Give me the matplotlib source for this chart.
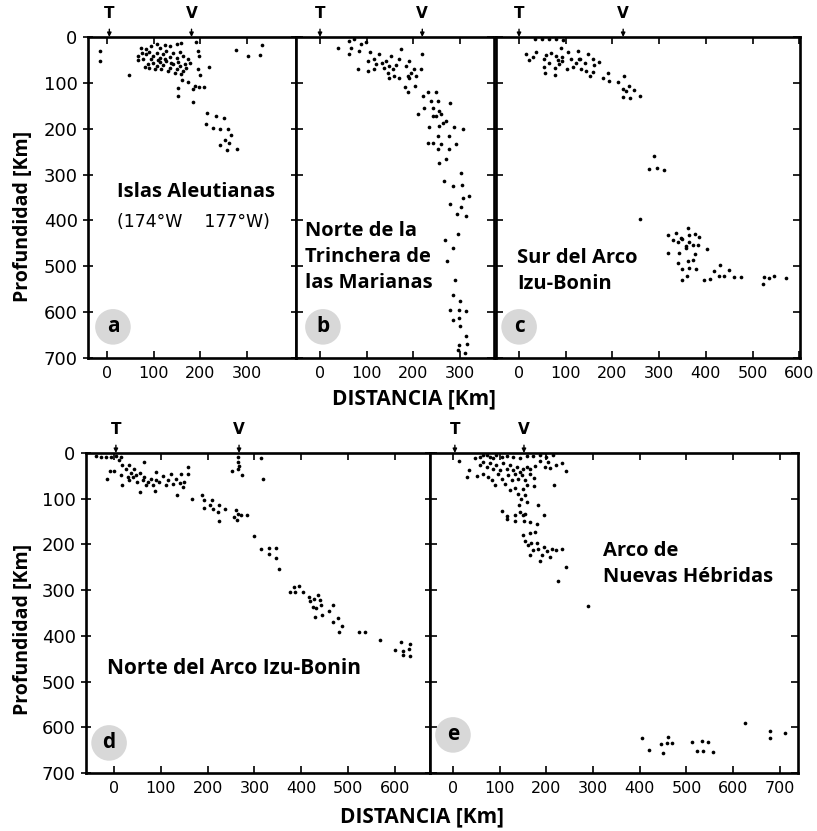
import matplotlib.pyplot as plt

plt.rcParams['font.family'] = ['DejaVu Sans']

# sismos (distancia km, profundidad km) por panel
a_dist = [-14, -14, 48, 276, 302, 327, 331, 195, 198, 191, 218, 195, 199, 161, 173, 151, 152, 184,
          188, 198, 208, 185, 215, 233, 251, 211, 228, 243, 259, 265, 252, 262, 243, 258, 278,
          73, 84, 95, 106, 113, 124, 134, 149, 159, 66, 66, 77, 84, 91, 98, 106, 113, 120, 127,
          134, 141, 149, 156, 163, 88, 98, 106, 113, 120, 127, 134, 141, 149, 156, 163, 170, 177,
          174, 166, 102, 116, 131, 145, 124, 109, 95, 81, 91, 74, 138, 152, 159]
a_prof = [30, 52, 83, 28, 41, 40, 18, 30, 41, 12, 65, 70, 83, 94, 99, 112, 128, 141,
          107, 110, 108, 114, 166, 172, 176, 190, 198, 200, 200, 213, 224, 232, 235, 246, 245,
          23, 27, 20, 16, 23, 18, 20, 16, 14, 41, 50, 49, 38, 33, 41, 34, 45, 38, 30,
          43, 34, 45, 33, 41, 60, 56, 63, 54, 62, 52, 67, 60, 70, 63, 74, 67, 56,
          49, 60, 70, 70, 74, 78, 49, 50, 49, 65, 67, 34, 56, 54, 81]

b_dist = [38, 63, 73, 88, 98, 66, 63, 84, 106, 81, 102, 102, 116, 120, 127, 116, 133, 138, 141,
          148, 156, 152, 163, 145, 159, 148, 170, 173, 184, 191, 188, 195, 202, 206, 216, 218,
          191, 170, 181, 188, 204, 220, 231, 248, 238, 252, 223, 209, 241, 255, 248, 259, 278,
          263, 241, 234, 255, 270, 286, 306, 252, 277, 231, 241, 259, 291, 252, 277, 270, 255,
          301, 266, 284, 304, 320, 306, 278, 302, 293, 313, 295, 268, 284, 271, 288, 284, 300,
          278, 297, 313, 298, 284, 300, 313, 298, 315, 296, 311]
b_prof = [25, 9, 5, 16, 12, 23, 38, 30, 33, 69, 52, 74, 49, 60, 38, 70, 56, 67, 52,
          63, 70, 41, 62, 78, 85, 89, 49, 27, 63, 52, 85, 78, 70, 85, 70, 38,
          89, 89, 110, 121, 107, 128, 121, 120, 139, 139, 154, 168, 154, 161, 172, 168, 143,
          187, 172, 197, 194, 183, 197, 201, 216, 216, 232, 232, 234, 234, 245, 245, 266, 274,
          297, 315, 326, 323, 346, 352, 364, 370, 385, 390, 429, 442, 460, 488, 529, 562, 576,
          595, 595, 597, 613, 618, 631, 651, 671, 669, 682, 689]

c_dist = [35, 50, 65, 80, 95, 15, 21, 36, 29, 54, 58, 69, 79, 90, 93, 104, 111, 126, 129, 147,
          158, 161, 172, 54, 56, 76, 65, 78, 86, 102, 115, 122, 133, 143, 151, 158, 93, 83,
          142, 131, 179, 190, 192, 211, 224, 222, 229, 236, 247, 222, 238, 259, 288, 278, 295,
          311, 259, 318, 336, 347, 361, 365, 376, 386, 329, 340, 350, 358, 372, 383, 365, 320,
          342, 358, 376, 403, 340, 361, 372, 350, 365, 378, 359, 348, 397, 408, 418, 430, 428,
          440, 450, 461, 475, 522, 525, 536, 547, 572]
c_prof = [5, 5, 5, 5, 6, 38, 50, 33, 43, 47, 40, 34, 41, 25, 43, 33, 49, 30, 47, 38,
          47, 62, 54, 65, 78, 83, 56, 67, 60, 70, 65, 57, 69, 74, 86, 76, 52, 50,
          56, 49, 89, 79, 96, 98, 86, 113, 118, 107, 115, 130, 132, 128, 259, 287, 285,
          290, 397, 431, 428, 439, 417, 431, 429, 436, 442, 446, 441, 455, 453, 453, 446, 471,
          470, 460, 473, 462, 493, 489, 486, 507, 504, 506, 522, 529, 529, 528, 511, 497, 522,
          522, 509, 524, 524, 538, 524, 526, 521, 526]

d_dist = [-38, -28, -17, -6, 4, 15, -14, -8, 1, 11, 18, 15, 17, 26, 33, 36, 33, 43, 47, 50,
          55, 55, 65, 65, 68, 79, 83, 90, 90, 88, 97, 105, 111, 115, 122, 125, 132, 134, 140,
          143, 147, 150, 157, 159, 40, 29, 61, 72, 167, 188, 193, 193, 204, 209, 212, 221, 225,
          224, 238, 252, 264, 264, 264, 273, 266, 314, 319, 257, 264, 261, 271, 284, 262, 298,
          313, 330, 332, 347, 346, 353, 375, 385, 396, 403, 387, 416, 419, 428, 435, 439, 424,
          431, 442, 430, 444, 460, 468, 467, 479, 487, 480, 524, 535, 567, 612, 632, 601, 617,
          631, 632, 617]
d_prof = [7, 8, 8, 9, 7, 9, 58, 40, 40, 16, 27, 49, 69, 34, 27, 43, 60, 34, 49, 63,
          43, 85, 20, 52, 71, 56, 71, 42, 60, 84, 63, 50, 71, 60, 45, 67, 56, 91, 65,
          45, 74, 63, 31, 47, 52, 52, 60, 63, 101, 91, 102, 120, 114, 103, 123, 130, 113,
          149, 122, 40, 9, 20, 34, 49, 28, 12, 58, 140, 133, 125, 136, 135, 147, 181,
          211, 207, 220, 207, 230, 254, 304, 293, 290, 303, 303, 315, 324, 319, 311, 322, 337,
          340, 333, 359, 355, 346, 333, 370, 361, 378, 391, 391, 391, 410, 413, 418, 432, 434,
          429, 444, 441]

e_dist = [13, 35, 29, 51, 47, 58, 65, 72, 79, 86, 93, 104, 115, 128, 143, 158, 172, 186, 200,
          215, 58, 65, 72, 79, 86, 93, 100, 108, 115, 122, 129, 136, 143, 150, 158, 165, 176,
          186, 197, 204, 208, 220, 233, 243, 65, 76, 83, 90, 97, 104, 111, 118, 126, 133, 140,
          147, 154, 164, 174, 174, 216, 122, 133, 140, 149, 158, 154, 145, 158, 142, 183, 195,
          106, 115, 133, 143, 154, 116, 133, 152, 165, 179, 150, 165, 176, 150, 154, 161, 168,
          179, 172, 183, 194, 201, 211, 220, 165, 186, 190, 208, 233, 243, 224, 290,
          404, 420, 445, 450, 459, 461, 468, 511, 522, 533, 536, 547, 557, 625, 679, 679, 712]
e_prof = [18, 38, 53, 50, 12, 9, 5, 4, 9, 12, 5, 9, 7, 9, 11, 7, 7, 5, 9,
          5, 27, 20, 31, 23, 34, 27, 38, 23, 34, 27, 38, 31, 41, 34, 31, 34, 28,
          18, 31, 20, 33, 27, 21, 40, 45, 52, 60, 69, 45, 56, 67, 49, 60, 45, 56,
          49, 60, 45, 55, 72, 69, 82, 76, 89, 79, 71, 93, 100, 107, 114, 113, 136,
          128, 138, 135, 129, 133, 144, 149, 149, 152, 155, 136, 176, 173, 180, 193, 202, 198,
          198, 213, 209, 206, 215, 211, 213, 224, 237, 224, 227, 211, 249, 280, 335,
          624, 650, 637, 657, 635, 622, 635, 633, 651, 630, 651, 633, 654, 590, 608, 623, 613]

paneles = [
    # letra, x, y, posicion, xlim, xticks, T, V
    ('a', a_dist, a_prof, [0.1077, 0.5692, 0.2546, 0.3863], (-40.7, 404.7), [0, 100, 200, 300], 5, 181),
    ('b', b_dist, b_prof, [0.3623, 0.5692, 0.2424, 0.3863], (-51.4, 372.6), [0, 100, 200, 300], 0, 219),
    ('c', c_dist, c_prof, [0.6071, 0.5692, 0.3721, 0.3863], (-49.3, 601.7), [0, 100, 200, 300, 400, 500, 600], 0, 223),
    ('d', d_dist, d_prof, [0.1053, 0.0698, 0.4211, 0.3851], (-59.8, 675), [0, 100, 200, 300, 400, 500, 600], 4, 267),
    ('e', e_dist, e_prof, [0.5263, 0.0698, 0.4504, 0.3851], (-49.3, 738.8), [0, 100, 200, 300, 400, 500, 600, 700], 4, 152),
]
circulos = {'a': (0.12, 0.097), 'b': (0.136, 0.097), 'c': (0.076, 0.097),
            'd': (0.067, 0.094), 'e': (0.0625, 0.119)}

titulo = ['Open Sans', 'DejaVu Sans']

fig = plt.figure(figsize=(8.17, 8.31), dpi=100)
ejes = {}
for letra, xs, ys, pos, xlim, xt, t, v in paneles:
    ax = fig.add_axes(pos)
    ejes[letra] = ax
    ax.scatter(xs, ys, s=7, c='black', linewidths=0, zorder=3)
    ax.set_xlim(*xlim)
    ax.set_ylim(700, 0)
    ax.set_xticks(xt)
    ax.set_yticks(range(0, 701, 100))
    for sp in ax.spines.values():
        sp.set_linewidth(1.9)
    ax.tick_params(direction='in', length=5, width=1.2, top=True, right=True, labelsize=11.5, pad=6)
    if letra not in ('a', 'd'):
        ax.tick_params(labelleft=False)
    else:
        ax.tick_params(axis='y', direction='inout', length=7, labelsize=13, pad=4)
    for lbl, xv in (('T', t), ('V', v)):
        ax.annotate(lbl, xy=(xv, 0), xycoords=('data', 'data'), xytext=(0, 17), textcoords='offset points',
                    ha='center', va='center', fontsize=11, fontweight='bold',
                    arrowprops=dict(arrowstyle='-|>', color='black', lw=1, mutation_scale=6, shrinkA=4, shrinkB=0),
                    annotation_clip=False)
    cx, cy = circulos[letra]
    ax.text(cx, cy, letra, transform=ax.transAxes, ha='center', va='center', fontsize=15,
            fontweight='bold', family=titulo,
            bbox=dict(boxstyle='circle,pad=0.35', fc='#d8d8d8', ec='none'))

ejes['a'].text(0.139, 0.517, 'Islas Aleutianas', transform=ejes['a'].transAxes, fontsize=14.5,
               fontweight='bold', family=titulo, va='center')
ejes['a'].text(0.139, 0.424, '(174°W    177°W)', transform=ejes['a'].transAxes, fontsize=12.5,
               va='center')
ejes['b'].text(0.045, 0.315, 'Norte de la\nTrinchera de\nlas Marianas', transform=ejes['b'].transAxes,
               fontsize=14.5, fontweight='bold', family=titulo, va='center', linespacing=1.4)
ejes['c'].text(0.069, 0.27, 'Sur del Arco\nIzu-Bonin', transform=ejes['c'].transAxes,
               fontsize=14.5, fontweight='bold', family=titulo, va='center', linespacing=1.4)
ejes['d'].text(0.061, 0.328, 'Norte del Arco Izu-Bonin', transform=ejes['d'].transAxes,
               fontsize=15, fontweight='bold', family=titulo, va='center')
ejes['e'].text(0.47, 0.653, 'Arco de\nNuevas Hébridas', transform=ejes['e'].transAxes,
               fontsize=14.5, fontweight='bold', family=titulo, va='center', linespacing=1.4)

for ax, xc, yc in ((ejes['a'], -0.262, 0.44), (ejes['d'], -0.153, 0.45)):
    ax.set_ylabel('Profundidad [Km]', fontsize=14, fontweight='bold', family=titulo)
    ax.yaxis.set_label_coords(xc, yc)

fig.text(414 / 817, 1 - 399 / 831, 'DISTANCIA [Km]', ha='center', va='center', fontsize=15,
         fontweight='bold', family=titulo)
fig.text(422 / 817, 1 - 817 / 831, 'DISTANCIA [Km]', ha='center', va='center', fontsize=15,
         fontweight='bold', family=titulo)

fig.savefig('out.png', dpi=100)
